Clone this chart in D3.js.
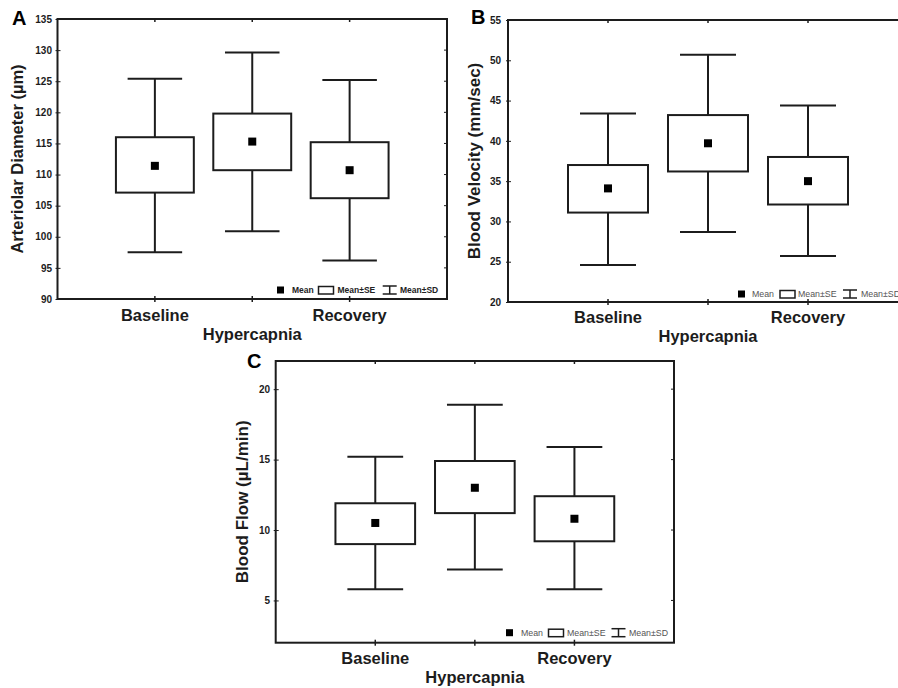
<!DOCTYPE html>
<html>
<head>
<meta charset="utf-8">
<script src="https://cdn.jsdelivr.net/npm/d3@7"></script>
<style>
  html, body { margin: 0; padding: 0; background: #fff; }
  svg { display: block; font-family: "Liberation Sans", Arial, sans-serif; }
</style>
</head>
<body>
<svg id="chart" width="898" height="688"></svg>
<script>
// Group labels shared by all three panels
const categories = ["Baseline", "Hypercapnia", "Recovery"];

// A: arteriolar diameter (µm)
const diameterMean   = [111.4, 115.3, 110.7];
const diameterSELow  = [107.1, 110.7, 106.2];
const diameterSEHigh = [116.0, 119.8, 115.2];
const diameterSDLow  = [97.5, 100.9, 96.2];
const diameterSDHigh = [125.4, 129.6, 125.2];
const diameterTicks  = [90, 95, 100, 105, 110, 115, 120, 125, 130, 135];

// B: blood velocity (mm/sec)
const velocityMean   = [34.1, 39.7, 35.0];
const velocitySELow  = [31.1, 36.2, 32.1];
const velocitySEHigh = [37.0, 43.2, 38.0];
const velocitySDLow  = [24.6, 28.7, 25.7];
const velocitySDHigh = [43.4, 50.7, 44.4];
const velocityTicks  = [20, 25, 30, 35, 40, 45, 50, 55];

// C: blood flow (µL/min)
const flowMean   = [10.5, 13.0, 10.8];
const flowSELow  = [9.0, 11.2, 9.2];
const flowSEHigh = [11.9, 14.9, 12.4];
const flowSDLow  = [5.8, 7.2, 5.8];
const flowSDHigh = [15.2, 18.9, 15.9];
const flowTicks  = [5, 10, 15, 20];

const legendLabels = ["Mean", "Mean±SE", "Mean±SD"];

const svg = d3.select("#chart");
const ink = "#1c1c1c";

function panel(cfg) {
  const g = svg.append("g");
  const { left, right, top, bottom } = cfg.frame;

  const x = d3.scalePoint().domain(categories).range([left, right]).padding(1);
  const y = d3.scaleLinear().domain(cfg.domain).range([bottom, top]);
  const step = x.step();
  const boxW = step * 0.8;
  const capW = step * 0.56;

  const rows = categories.map((c, i) => ({
    c, mean: cfg.mean[i], seLo: cfg.seLow[i], seHi: cfg.seHigh[i],
    sdLo: cfg.sdLow[i], sdHi: cfg.sdHigh[i]
  }));

  // frame
  g.append("rect")
    .attr("x", left).attr("y", top)
    .attr("width", right - left).attr("height", bottom - top)
    .attr("fill", "none").attr("stroke", ink).attr("stroke-width", 2);

  // y axis ticks + labels
  const yAxis = d3.axisLeft(y).tickValues(cfg.ticks).tickSize(3).tickPadding(3);
  const ya = g.append("g").attr("transform", `translate(${left},0)`).call(yAxis);
  ya.select(".domain").remove();
  ya.selectAll("line").attr("stroke", ink).attr("x2", 3).attr("x1", -2);
  ya.selectAll("text")
    .attr("x", cfg.tickLabelX - left)
    .attr("font-size", 10).attr("font-weight", "bold").attr("fill", ink)
    .attr("font-family", "Liberation Sans, Arial, sans-serif");

  // right-side inner ticks
  g.selectAll(".rt").data(cfg.ticks).join("line")
    .attr("x1", right - 3).attr("x2", right)
    .attr("y1", d => y(d)).attr("y2", d => y(d))
    .attr("stroke", ink).attr("stroke-width", 1);

  // top and bottom category ticks
  g.selectAll(".tt").data(categories).join("line")
    .attr("x1", d => x(d)).attr("x2", d => x(d))
    .attr("y1", top).attr("y2", top + 3)
    .attr("stroke", ink).attr("stroke-width", 1.5);
  g.selectAll(".bt").data(categories).join("line")
    .attr("x1", d => x(d)).attr("x2", d => x(d))
    .attr("y1", bottom - 3).attr("y2", bottom + 3)
    .attr("stroke", ink).attr("stroke-width", 1.5);

  // SD whiskers
  const wk = g.selectAll(".wk").data(rows).join("g");
  wk.append("line")
    .attr("x1", d => x(d.c)).attr("x2", d => x(d.c))
    .attr("y1", d => y(d.sdHi)).attr("y2", d => y(d.sdLo))
    .attr("stroke", ink).attr("stroke-width", 2);
  wk.append("line")
    .attr("x1", d => x(d.c) - capW / 2).attr("x2", d => x(d.c) + capW / 2)
    .attr("y1", d => y(d.sdHi)).attr("y2", d => y(d.sdHi))
    .attr("stroke", ink).attr("stroke-width", 2);
  wk.append("line")
    .attr("x1", d => x(d.c) - capW / 2).attr("x2", d => x(d.c) + capW / 2)
    .attr("y1", d => y(d.sdLo)).attr("y2", d => y(d.sdLo))
    .attr("stroke", ink).attr("stroke-width", 2);

  // SE boxes
  g.selectAll(".bx").data(rows).join("rect")
    .attr("x", d => x(d.c) - boxW / 2)
    .attr("y", d => y(d.seHi))
    .attr("width", boxW)
    .attr("height", d => y(d.seLo) - y(d.seHi))
    .attr("fill", "#fff").attr("stroke", ink).attr("stroke-width", 2);

  // means
  const ms = 8;
  g.selectAll(".mn").data(rows).join("rect")
    .attr("x", d => x(d.c) - ms / 2)
    .attr("y", d => y(d.mean) - ms / 2)
    .attr("width", ms).attr("height", ms)
    .attr("fill", "#000");

  // category labels (middle one staggered below)
  g.selectAll(".cl").data(categories).join("text")
    .attr("x", d => x(d))
    .attr("y", (d, i) => i === 1 ? cfg.catY2 : cfg.catY)
    .attr("text-anchor", "middle")
    .attr("font-size", 16.5).attr("font-weight", "bold").attr("fill", ink)
    .text(d => d);

  // y title
  g.append("text")
    .attr("transform", `translate(${cfg.titleX},${(top + bottom) / 2}) rotate(-90)`)
    .attr("text-anchor", "middle")
    .attr("font-size", cfg.titleSize).attr("font-weight", "bold").attr("fill", ink)
    .text(cfg.title);

  // panel letter
  g.append("text")
    .attr("x", cfg.letterX).attr("y", cfg.letterY)
    .attr("font-size", 20).attr("font-weight", "bold").attr("fill", "#000")
    .text(cfg.letter);

  // legend
  const L = cfg.legend;
  const lg = g.append("g").attr("transform", `translate(0,${L.y})`);
  const lgStyle = sel => sel
    .attr("font-size", L.size).attr("font-weight", L.weight).attr("fill", L.color)
    .attr("dominant-baseline", "central");
  lg.append("rect").attr("x", L.x[0]).attr("y", -3.5).attr("width", 7).attr("height", 7).attr("fill", "#000");
  lg.append("text").attr("x", L.x[1]).attr("y", 0).text(legendLabels[0]).call(lgStyle);
  lg.append("rect").attr("x", L.x[2]).attr("y", -3.5).attr("width", 15).attr("height", 7.5)
    .attr("fill", "#fff").attr("stroke", ink).attr("stroke-width", 1.5);
  lg.append("text").attr("x", L.x[3]).attr("y", 0).text(legendLabels[1]).call(lgStyle);
  const wx = L.x[4];
  lg.append("line").attr("x1", wx - 7).attr("x2", wx + 7).attr("y1", -4).attr("y2", -4).attr("stroke", ink).attr("stroke-width", 1.5);
  lg.append("line").attr("x1", wx).attr("x2", wx).attr("y1", -4).attr("y2", 4).attr("stroke", ink).attr("stroke-width", 1.5);
  lg.append("line").attr("x1", wx - 7).attr("x2", wx + 7).attr("y1", 4).attr("y2", 4).attr("stroke", ink).attr("stroke-width", 1.5);
  lg.append("text").attr("x", L.x[5]).attr("y", 0).text(legendLabels[2]).call(lgStyle);
}

panel({
  letter: "A", letterX: 12, letterY: 25,
  frame: { left: 57.5, right: 447, top: 19, bottom: 299 },
  domain: [90, 135], ticks: diameterTicks, tickLabelX: 52,
  mean: diameterMean, seLow: diameterSELow, seHigh: diameterSEHigh,
  sdLow: diameterSDLow, sdHigh: diameterSDHigh,
  title: "Arteriolar Diameter (µm)", titleX: 23, titleSize: 16.5,
  catY: 321, catY2: 340,
  legend: { y: 290, x: [277, 292, 318.5, 337.5, 389.7, 400], size: 8.5, weight: "bold", color: "#222" }
});

panel({
  letter: "B", letterX: 471, letterY: 24,
  frame: { left: 508, right: 908, top: 20, bottom: 302 },
  domain: [20, 55], ticks: velocityTicks, tickLabelX: 501,
  mean: velocityMean, seLow: velocitySELow, seHigh: velocitySEHigh,
  sdLow: velocitySDLow, sdHigh: velocitySDHigh,
  title: "Blood Velocity (mm/sec)", titleX: 480, titleSize: 17,
  catY: 323, catY2: 342,
  legend: { y: 294, x: [738, 752, 780, 798, 850, 861], size: 8.8, weight: "normal", color: "#555" }
});

panel({
  letter: "C", letterX: 247, letterY: 368,
  frame: { left: 275.7, right: 674, top: 361, bottom: 642.7 },
  domain: [2, 22], ticks: flowTicks, tickLabelX: 270,
  mean: flowMean, seLow: flowSELow, seHigh: flowSEHigh,
  sdLow: flowSDLow, sdHigh: flowSDHigh,
  title: "Blood Flow (µL/min)", titleX: 248, titleSize: 17,
  catY: 664, catY2: 683,
  legend: { y: 632.7, x: [506, 521, 548.5, 567, 618.5, 629], size: 8.8, weight: "normal", color: "#555" }
});
</script>
</body>
</html>
